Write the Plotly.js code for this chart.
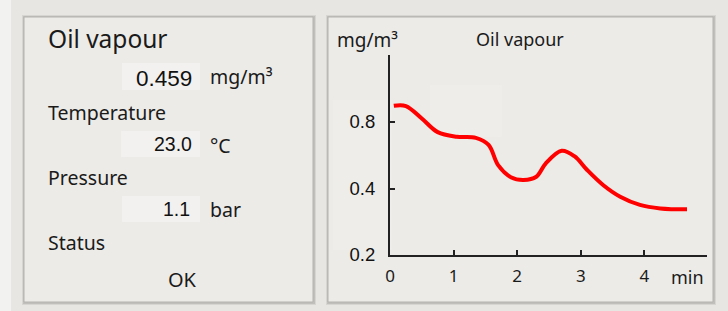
<!DOCTYPE html>
<html>
<head>
<meta charset="utf-8">
<script src="https://cdn.plot.ly/plotly-3.0.1.min.js"></script>
<style>
html,body{margin:0;padding:0;background:#E7E6E2;}
#chart{width:728px;height:311px;}
</style>
</head>
<body>
<div id="chart"></div>
<script>
// ---- data ----
const timeMin = [0.06, 0.25, 0.50, 0.75, 1.05, 1.35, 1.55, 1.70, 1.90, 2.10, 2.30, 2.45, 2.70, 2.90, 3.10, 3.35, 3.62, 3.93, 4.25, 4.67];
const oilVapour = [0.948, 0.945, 0.830, 0.720, 0.686, 0.678, 0.630, 0.510, 0.450, 0.437, 0.452, 0.520, 0.593, 0.560, 0.485, 0.415, 0.367, 0.337, 0.325, 0.322];
const xTickVals = [0, 1, 2, 3, 4];
const xTickText = ['0', '1', '2', '3', '4'];
const yTickVals = [0.2, 0.4, 0.8];
const yTickText = ['0.2', '0.4', '0.8'];

const panelTitle = 'Oil vapour';
const currentValue = '0.459';
const currentUnit = 'mg/m³';
const tempLabel = 'Temperature';
const tempValue = '23.0';
const tempUnit = '°C';
const pressLabel = 'Pressure';
const pressValue = '1.1';
const pressUnit = 'bar';
const statusLabel = 'Status';
const statusValue = 'OK';
const chartTitle = 'Oil vapour';
const yUnit = 'mg/m³';
const xUnit = 'min';

// ---- pixel -> paper helpers (plot area: x 390..707, y 55..255) ----
const PL = 390, PR = 707, PT = 55, PB = 255;
const X = px => (px - PL) / (PR - PL);
const Y = py => (PB - py) / (PB - PT);

const SANS = 'Noto Sans, Open Sans, sans-serif';
const NUM = 'Liberation Sans, Arial, sans-serif';
const TXT = '#1a1a1a';

function rect(x0, y0, x1, y1, fill, line, lw) {
  return {type: 'rect', xref: 'paper', yref: 'paper', layer: 'below',
    x0: X(x0), x1: X(x1), y0: Y(y1), y1: Y(y0),
    fillcolor: fill, line: {color: line || 'rgba(0,0,0,0)', width: lw || 0}};
}
function label(txt, px, py, size, font, anchor, color) {
  return {text: txt, xref: 'paper', yref: 'paper', x: X(px), y: Y(py),
    xanchor: anchor || 'left', yanchor: 'middle', showarrow: false,
    font: {family: font || SANS, size: size, color: color || TXT}};
}

const shapes = [
  // page strip
  rect(0, 0, 11, 311, '#F2F2F0'),
  // left panel shadow + body
  rect(22, 15, 316, 305, 'rgba(0,0,0,0.07)'),
  rect(23, 16, 315, 304, 'rgba(0,0,0,0.10)'),
  rect(24, 17, 313, 302, '#ECEBE7', '#B5B3AF', 1),
  // right panel shadow + body
  rect(326, 15, 716, 305, 'rgba(0,0,0,0.07)'),
  rect(327, 16, 715, 304, 'rgba(0,0,0,0.10)'),
  rect(328, 17, 713, 302, '#ECEBE7', '#B5B3AF', 1),
  // faint lighter patches in chart panel
  rect(333, 100, 392, 250, '#EFEDEA'),
  rect(430, 85, 502, 137, '#EFEDEA'),
  // value boxes
  rect(122, 63, 200, 90, '#F3F1EF'),
  rect(121, 131, 200, 157, '#F3F1EF'),
  rect(122, 196, 200, 222, '#F3F1EF')
];

const annotations = [
  label(panelTitle, 46, 39, 24.5),
  label(currentValue, 194, 78, 22.5, NUM, 'right', '#111'),
  label(currentUnit, 208, 76, 19.5),
  label(tempLabel, 46, 112, 19.5),
  label(tempValue, 194, 144, 19.5, NUM, 'right', '#111'),
  label(tempUnit, 208, 145, 19.5),
  label(pressLabel, 46, 177, 19.5),
  label(pressValue, 192, 209, 19.5, NUM, 'right', '#111'),
  label(pressUnit, 208, 209, 19.5),
  label(statusLabel, 46, 242, 19.5),
  label(statusValue, 182, 279, 20, SANS, 'center'),
  label(yUnit, 335, 40, 19),
  label(chartTitle, 520, 39, 18, SANS, 'center'),
  label(xUnit, 687, 277, 18, SANS, 'center')
];

const trace = {
  x: timeMin, y: oilVapour, type: 'scatter', mode: 'lines',
  line: {color: '#FF0000', width: 4, shape: 'spline', smoothing: 1},
  hoverinfo: 'skip'
};

const yLo = Math.log10(0.2);
const yHi = yLo + (PB - PT) / 66.5 * Math.log10(2);

const layout = {
  width: 728, height: 311,
  margin: {l: PL, r: 728 - PR, t: PT, b: 311 - PB, pad: 0},
  paper_bgcolor: '#E7E6E2',
  plot_bgcolor: 'rgba(0,0,0,0)',
  showlegend: false,
  xaxis: {
    range: [0, (PR - PL) / 63.6], showgrid: false, zeroline: false,
    showline: true, linecolor: '#222', linewidth: 2,
    ticks: 'inside', ticklen: 5, tickwidth: 2, tickcolor: '#222',
    tickvals: xTickVals, ticktext: xTickText,
    tickfont: {family: SANS, size: 17, color: TXT}, ticklabelstandoff: 5
  },
  yaxis: {
    type: 'log', range: [yLo, yHi], showgrid: false, zeroline: false,
    showline: true, linecolor: '#222', linewidth: 2,
    ticks: 'inside', ticklen: 5, tickwidth: 2, tickcolor: '#222',
    tickvals: yTickVals, ticktext: yTickText,
    tickfont: {family: NUM, size: 18.5, color: '#111'}, ticklabelstandoff: 9
  },
  shapes: shapes,
  annotations: annotations
};

Plotly.newPlot('chart', [trace], layout, {staticPlot: true, displayModeBar: false});
</script>
</body>
</html>
